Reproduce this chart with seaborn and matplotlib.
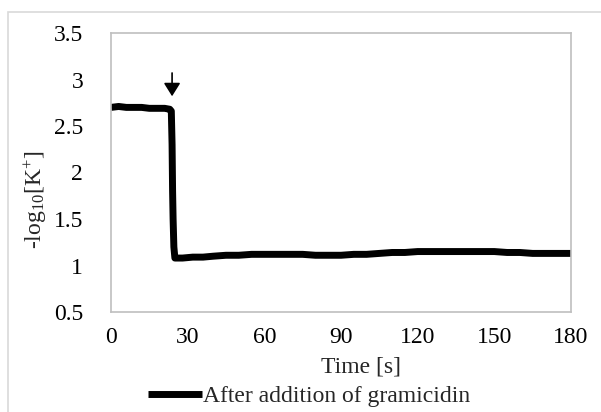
"""
Potassium trace after gramicidin addition.
"""
import numpy as np
import pandas as pd
import matplotlib
matplotlib.use("Agg")
import matplotlib.pyplot as plt
from matplotlib.patches import Rectangle
import seaborn as sns

# values
time_s = [0, 3, 6, 9, 12, 15, 18, 21, 23.0, 23.6, 23.9, 24.1, 24.3, 24.6, 25.0,
          28, 32, 36, 40, 45, 50, 55, 60, 65, 70, 75, 80, 85, 90, 95, 100,
          105, 110, 115, 120, 125, 130, 135, 140, 145, 150, 155, 160, 165,
          170, 175, 180]
log_k = [2.70, 2.71, 2.70, 2.70, 2.70, 2.69, 2.69, 2.69, 2.68, 2.66, 2.30, 1.80,
         1.50, 1.20, 1.08, 1.08, 1.09, 1.09, 1.10, 1.11, 1.11, 1.12, 1.12, 1.12,
         1.12, 1.12, 1.11, 1.11, 1.11, 1.12, 1.12, 1.13, 1.14, 1.14, 1.15, 1.15,
         1.15, 1.15, 1.15, 1.15, 1.15, 1.14, 1.14, 1.13, 1.13, 1.13, 1.13]
x_ticks = [0, 30, 60, 90, 120, 150, 180]
y_ticks = [0.5, 1, 1.5, 2, 2.5, 3, 3.5]
series_label = "After addition of gramicidin"
arrow_time = 23.9
arrow_from, arrow_to = 3.10, 2.79

df = pd.DataFrame({"time": time_s, "logk": log_k})

sns.set_style("white")
plt.rcParams["font.family"] = ["Liberation Serif", "DejaVu Serif"]
plt.rcParams["mathtext.fontset"] = "custom"
plt.rcParams["mathtext.rm"] = "Liberation Serif"
plt.rcParams["mathtext.it"] = "Liberation Serif:italic"

FS = 17

fig = plt.figure(figsize=(6.01, 4.12), dpi=100)
ax = fig.add_axes([111 / 601, 1 - 312 / 412, 460 / 601, 279 / 412])

sns.lineplot(data=df, x="time", y="logk", ax=ax, color="black", lw=5,
             label=series_label, sort=False, solid_capstyle="butt")

ax.annotate("", xy=(arrow_time, arrow_to), xytext=(arrow_time, arrow_from),
            arrowprops=dict(arrowstyle="-|>,head_width=0.5,head_length=0.8",
                            color="black", lw=1.2))

ax.set_xlim(0, 180)
ax.set_ylim(0.5, 3.5)
ax.set_xticks(x_ticks)
ax.set_yticks(y_ticks)
ax.set_yticklabels([f"{v:g}" for v in y_ticks])
ax.tick_params(axis="both", length=0, labelsize=FS, colors="black")
ax.tick_params(axis="x", pad=11)
ax.tick_params(axis="y", pad=20)
ax.set_xlabel("")
ax.set_ylabel("")
for s in ax.spines.values():
    s.set_color("#bfbfbf")
    s.set_linewidth(1.2)

fig.text(361 / 601, 1 - 367 / 412, "Time [s]", ha="center", va="center",
         fontsize=FS)
fig.text(36 / 601, 1 - 200 / 412, r"-log$_{10}$[K$^{+}$]", ha="center",
         va="center", rotation=90, fontsize=FS)

leg = ax.legend(loc="center", bbox_to_anchor=(309 / 601, 1 - 396 / 412),
                bbox_transform=fig.transFigure, frameon=False, fontsize=FS,
                handlelength=2.3, handletextpad=0.05, borderpad=0)

# chart-area border (top and left visible)
fig.patches.append(Rectangle((8 / 601, -0.2), 1.2, 0.2 + 1 - 12 / 412,
                             transform=fig.transFigure, fill=False,
                             edgecolor="#d9d9d9", lw=1.2))

fig.savefig("out.png", dpi=100)
